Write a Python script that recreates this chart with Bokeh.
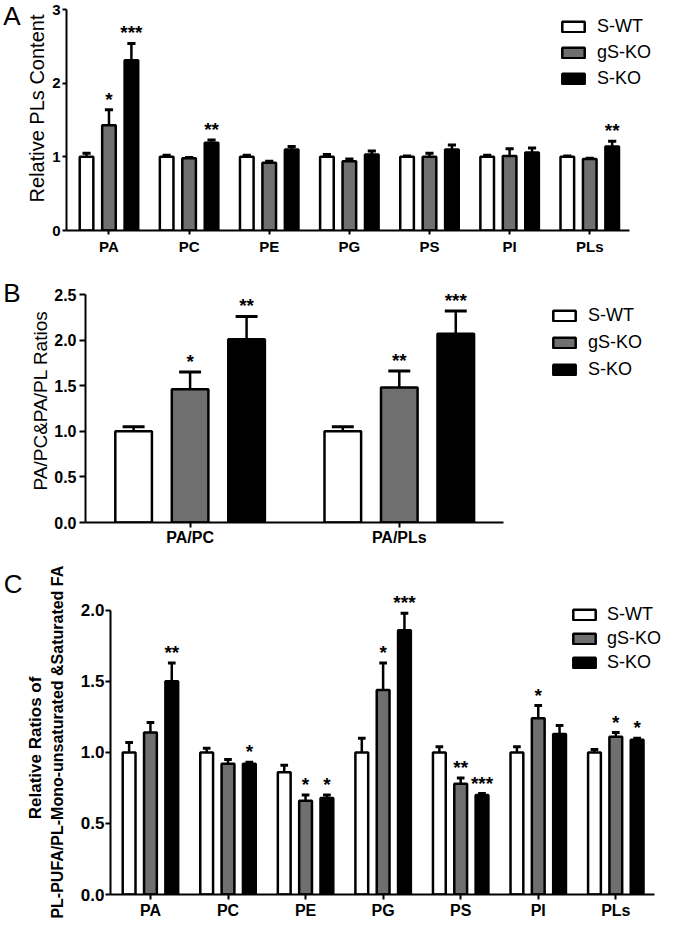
from bokeh.plotting import figure
from bokeh.models import (Range1d, FixedTicker, Legend, LegendItem, LinearAxis,
                          LabelSet, ColumnDataSource, PrintfTickFormatter,
                          CustomJSTickFormatter)
from bokeh.core.properties import value
from bokeh.embed import file_html
from bokeh.resources import INLINE

# ---------------- data ----------------
groups = ["S-WT", "gS-KO", "S-KO"]

a_cats = ["PA", "PC", "PE", "PG", "PS", "PI", "PLs"]
a_wt = [1.00, 1.00, 1.00, 1.00, 1.00, 1.00, 1.00]
a_wt_err = [0.05, 0.02, 0.02, 0.03, 0.01, 0.02, 0.01]
a_gs = [1.43, 0.98, 0.92, 0.94, 1.00, 1.01, 0.97]
a_gs_err = [0.21, 0.01, 0.02, 0.03, 0.05, 0.10, 0.01]
a_ko = [2.31, 1.19, 1.10, 1.03, 1.10, 1.06, 1.14]
a_ko_err = [0.23, 0.04, 0.04, 0.05, 0.06, 0.06, 0.07]
a_sig_wt = ["", "", "", "", "", "", ""]
a_sig_gs = ["*", "", "", "", "", "", ""]
a_sig_ko = ["***", "**", "", "", "", "", "**"]
a_yticks = [0, 1, 2, 3]

b_cats = ["PA/PC", "PA/PLs"]
b_wt = [1.00, 1.00]
b_wt_err = [0.05, 0.05]
b_gs = [1.46, 1.48]
b_gs_err = [0.19, 0.18]
b_ko = [2.01, 2.07]
b_ko_err = [0.25, 0.25]
b_sig_wt = ["", ""]
b_sig_gs = ["*", "**"]
b_sig_ko = ["**", "***"]
b_yticks = [0.0, 0.5, 1.0, 1.5, 2.0, 2.5]

c_cats = ["PA", "PC", "PE", "PG", "PS", "PI", "PLs"]
c_wt = [1.00, 1.00, 0.86, 1.00, 1.00, 1.00, 1.00]
c_wt_err = [0.07, 0.03, 0.05, 0.10, 0.04, 0.04, 0.02]
c_gs = [1.14, 0.92, 0.66, 1.44, 0.78, 1.24, 1.11]
c_gs_err = [0.07, 0.03, 0.04, 0.19, 0.04, 0.09, 0.03]
c_ko = [1.50, 0.92, 0.68, 1.86, 0.70, 1.13, 1.09]
c_ko_err = [0.13, 0.01, 0.02, 0.12, 0.01, 0.06, 0.01]
c_sig_wt = ["", "", "", "", "", "", ""]
c_sig_gs = ["", "", "*", "*", "**", "*", "*"]
c_sig_ko = ["**", "*", "*", "***", "***", "", "*"]
c_yticks = [0.0, 0.5, 1.0, 1.5, 2.0]

a_title = ["Relative PLs Content"]
b_title = ["PA/PC&PA/PL Ratios"]
c_title = ["PL-PUFA/PL-Mono-unsaturated &Saturated FA", "Relative Ratios of"]

FONT = "Liberation Sans"
FILLS = ["white", "#6f6f6f", "black"]
W = 664


def side_text(p, y, text, size, style, out, orient):
    """A line-less outer left axis whose single tick label carries a text."""
    ax = LinearAxis(ticker=FixedTicker(ticks=[y]),
                    formatter=CustomJSTickFormatter(code="return %r;" % text),
                    axis_line_color=None, major_tick_line_color=None,
                    minor_tick_line_color=None, major_tick_in=0,
                    major_tick_out=out, major_label_standoff=0,
                    major_label_orientation=orient,
                    major_label_text_font=FONT,
                    major_label_text_font_size=size,
                    major_label_text_font_style=style,
                    major_label_text_color="black")
    p.add_layout(ax, "left")


def make_panel(cats, series, errs, sigs, yticks, yfmt, titles, letter,
               H, bl, bb, axis_top_px, letter_px, title_px, cat_px, x0,
               offset, bw, tick_fs, cat_fs, title_specs,
               ytick_out, ytick_standoff, xtick_out, xtick_standoff,
               leg_xy, leg_lh, leg_standoff, letter_out):
    ymax = yticks[-1]
    xmax = len(cats) - 0.5
    frame_h = H - bb
    frame_w = W - bl
    ppu = (frame_h - axis_top_px) / ymax
    y_end = frame_h / ppu
    x_end = x0 + frame_w / cat_px
    p = figure(width=W, height=H, output_backend="svg", toolbar_location=None,
               x_range=Range1d(x0, x_end), y_range=Range1d(0, y_end),
               min_border_left=bl, min_border_right=0,
               min_border_top=0, min_border_bottom=bb)
    p.outline_line_color = None
    p.xgrid.grid_line_color = None
    p.ygrid.grid_line_color = None
    p.background_fill_color = "white"
    p.border_fill_color = "white"

    idx = list(range(len(cats)))
    renderers = []
    for k, (vals, ers, sg) in enumerate(zip(series, errs, sigs)):
        xs = [i + (k - 1) * offset for i in idx]
        caps = [v + e for v, e in zip(vals, ers)]
        src = ColumnDataSource(dict(x=xs, top=vals, cap=caps, sig=sg,
                                    cl=[x - bw * 0.3 for x in xs],
                                    cr=[x + bw * 0.3 for x in xs]))
        r = p.vbar(x="x", top="top", width=bw, bottom=0, source=src,
                   fill_color=FILLS[k], line_color="black", line_width=2.5)
        renderers.append(r)
        p.segment(x0="x", y0="top", x1="x", y1="cap", source=src,
                  line_color="black", line_width=2.5)
        p.segment(x0="cl", y0="cap", x1="cr", y1="cap", source=src,
                  line_color="black", line_width=3)
        p.add_layout(LabelSet(x="x", y="cap", text="sig", source=src,
                              text_align="center", text_baseline="alphabetic",
                              y_offset=4, text_font=value(FONT),
                              text_font_style="bold", text_font_size="19px",
                              text_color="black"))

    for ax in (p.xaxis[0], p.yaxis[0]):
        ax.axis_line_width = 2
        ax.axis_line_color = "black"
        ax.major_tick_line_width = 2
        ax.major_tick_line_color = "black"
        ax.major_tick_in = 0
        ax.minor_tick_line_color = None
        ax.major_label_text_font = FONT
        ax.major_label_text_font_style = "bold"
        ax.major_label_text_color = "black"

    p.xaxis.ticker = FixedTicker(ticks=idx)
    p.xaxis.major_label_overrides = {i: c for i, c in enumerate(cats)}
    p.xaxis.major_label_text_font_size = cat_fs
    p.xaxis.major_tick_out = xtick_out
    p.xaxis.major_label_standoff = xtick_standoff
    p.xaxis.bounds = (x0, xmax)

    p.yaxis.ticker = FixedTicker(ticks=yticks)
    p.yaxis.formatter = PrintfTickFormatter(format=yfmt)
    p.yaxis.major_label_text_font_size = tick_fs
    p.yaxis.major_tick_out = ytick_out
    p.yaxis.major_label_standoff = ytick_standoff
    p.yaxis.bounds = (0, ymax)

    # y-axis title line(s), innermost first
    ty = (frame_h - title_px) / ppu
    for text, (size, style, out) in zip(titles, title_specs):
        side_text(p, ty, text, size, style, out, "parallel")

    # panel letter
    side_text(p, (frame_h - letter_px) / ppu, letter, "26px", "normal",
              letter_out, "horizontal")

    legend = Legend(items=[LegendItem(label=g, renderers=[r])
                           for g, r in zip(groups, renderers)],
                    location=leg_xy, orientation="vertical",
                    glyph_width=28, glyph_height=13, label_height=leg_lh,
                    spacing=0, padding=0, margin=0, label_standoff=leg_standoff,
                    label_text_font=FONT, label_text_font_size="18px",
                    label_text_color="black",
                    border_line_alpha=0, background_fill_alpha=0)
    p.add_layout(legend)
    return p


pA = make_panel(a_cats, [a_wt, a_gs, a_ko], [a_wt_err, a_gs_err, a_ko_err],
                [a_sig_wt, a_sig_gs, a_sig_ko], a_yticks, "%d", a_title, "A",
                H=262, bl=61, bb=32, axis_top_px=9, letter_px=15, title_px=108,
                cat_px=80.8, x0=-0.53, offset=0.28, bw=0.17,
                tick_fs="15px", cat_fs="15px",
                title_specs=[("20px", "normal", 2)],
                ytick_out=4, ytick_standoff=2, xtick_out=4, xtick_standoff=3,
                leg_xy=(493, 139), leg_lh=26, leg_standoff=10, letter_out=2)

pB = make_panel(b_cats, [b_wt, b_gs, b_ko], [b_wt_err, b_gs_err, b_ko_err],
                [b_sig_wt, b_sig_gs, b_sig_ko], b_yticks, "%.1f", b_title, "B",
                H=290, bl=80, bb=30, axis_top_px=32, letter_px=30,
                title_px=138, cat_px=211, x0=-0.5, offset=0.27, bw=0.175,
                tick_fs="16px", cat_fs="16px",
                title_specs=[("19px", "normal", 1)],
                ytick_out=6, ytick_standoff=3, xtick_out=5, xtick_standoff=1,
                leg_xy=(465, 139), leg_lh=27, leg_standoff=10, letter_out=6)

pC = make_panel(c_cats, [c_wt, c_gs, c_ko], [c_wt_err, c_gs_err, c_ko_err],
                [c_sig_wt, c_sig_gs, c_sig_ko], c_yticks, "%.1f", c_title, "C",
                H=369, bl=109, bb=26, axis_top_px=58, letter_px=32,
                title_px=196, cat_px=77.7, x0=-0.515, offset=0.275, bw=0.165,
                tick_fs="17px", cat_fs="16px",
                title_specs=[("16px", "bold", 11), ("17px", "bold", 1)],
                ytick_out=5, ytick_standoff=1, xtick_out=5, xtick_standoff=2,
                leg_xy=(460, 220), leg_lh=24, leg_standoff=9, letter_out=1)

open("out.html", "w").write(file_html([pA, pB, pC], INLINE))
